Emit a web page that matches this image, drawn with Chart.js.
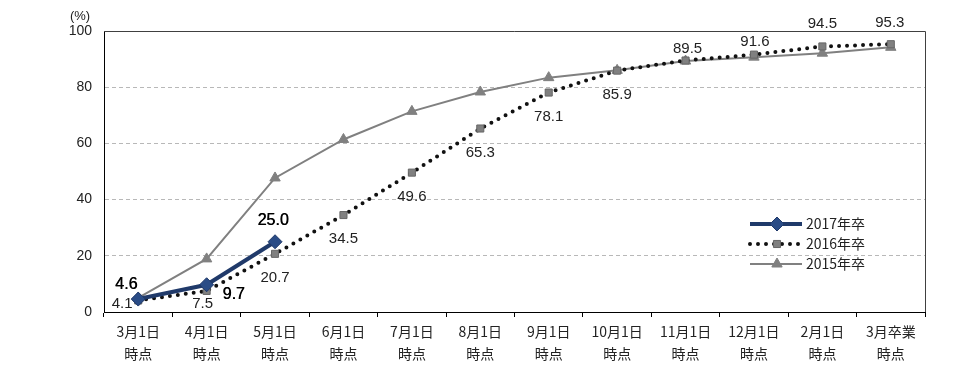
<!DOCTYPE html>
<html>
<head>
<meta charset="utf-8">
<script src="https://cdn.jsdelivr.net/npm/chart.js@4.4.1/dist/chart.umd.min.js"></script>
<style>
  html, body { margin: 0; padding: 0; background: #fff; }
  #wrap { width: 961px; height: 370px; }
</style>
</head>
<body>
<div id="wrap"><canvas id="chart" width="961" height="370"></canvas></div>
<script>
// ===================== DATA =====================
const categories = [
  ['3月1日', '時点'], ['4月1日', '時点'], ['5月1日', '時点'], ['6月1日', '時点'],
  ['7月1日', '時点'], ['8月1日', '時点'], ['9月1日', '時点'], ['10月1日', '時点'],
  ['11月1日', '時点'], ['12月1日', '時点'], ['2月1日', '時点'], ['3月卒業', '時点']
];
const series2017 = [4.6, 9.7, 25.0, null, null, null, null, null, null, null, null, null];
const series2016 = [4.1, 7.5, 20.7, 34.5, 49.6, 65.3, 78.1, 85.9, 89.5, 91.6, 94.5, 95.3];
const series2015 = [5.0, 18.9, 47.7, 61.4, 71.4, 78.3, 83.4, 86.0, 89.3, 90.7, 92.1, 94.2];
const yTicks = [0, 20, 40, 60, 80, 100];

// label offsets from each point (pixels), only for labelled series
const labelOffset2017 = [[-12, -14], [27, 10], [-2, -21]];
const labelOffset2016 = [[-16, 3], [-4, 13], [0, 24], [0, 24], [0, 24], [0, 24], [0, 24], [0, 24],
  [2, -12], [1, -13], [0, -23], [-1, -21]];

const NAVY = '#203a6a';
const GRAY = '#808080';
const FONT_JP = '"Noto Sans CJK JP", "Liberation Sans", sans-serif';
const FONT_NUM = '"Liberation Sans", Arial, sans-serif';

// ===================== PLUGINS =====================
const decorPlugin = {
  id: 'decor',
  afterDatasetsDraw(chart) {
    const ctx = chart.ctx;
    const area = chart.chartArea;
    ctx.save();
    // top and right frame
    ctx.strokeStyle = '#404040';
    ctx.lineWidth = 1;
    ctx.beginPath();
    ctx.moveTo(area.left, area.top + 0.5);
    ctx.lineTo(area.right + 0.5, area.top + 0.5);
    ctx.lineTo(area.right + 0.5, area.bottom);
    ctx.stroke();

    // data labels
    ctx.textAlign = 'center';
    ctx.textBaseline = 'middle';
    const m17 = chart.getDatasetMeta(0).data;
    ctx.fillStyle = '#000';
    ctx.font = '16px ' + FONT_NUM;
    series2017.forEach((v, i) => {
      if (v === null) return;
      const p = m17[i];
      // slightly heavier text: draw twice with half pixel shift
      ctx.fillText(v.toFixed(1), p.x + labelOffset2017[i][0], p.y + labelOffset2017[i][1]);
      ctx.fillText(v.toFixed(1), p.x + labelOffset2017[i][0] + 0.5, p.y + labelOffset2017[i][1]);
    });
    const m16 = chart.getDatasetMeta(1).data;
    ctx.font = '15px ' + FONT_NUM;
    ctx.fillStyle = '#222';
    series2016.forEach((v, i) => {
      const p = m16[i];
      ctx.fillText(v.toFixed(1), p.x + labelOffset2016[i][0], p.y + labelOffset2016[i][1]);
    });

    // unit label
    ctx.font = '13px ' + FONT_NUM;
    ctx.fillStyle = '#222';
    ctx.fillText('(%)', 80, 16);

    // legend
    const items = chart.data.datasets;
    const lx0 = 750, lx1 = 802, rowY = [224, 244, 264];
    items.forEach((ds, i) => {
      const y = rowY[i];
      ctx.save();
      ctx.strokeStyle = ds.borderColor;
      ctx.lineWidth = ds.borderWidth;
      ctx.lineCap = ds.borderCapStyle || 'butt';
      ctx.setLineDash(ds.borderDash || []);
      ctx.beginPath();
      ctx.moveTo(lx0, y);
      ctx.lineTo(lx1, y);
      ctx.stroke();
      ctx.restore();
      ctx.save();
      ctx.fillStyle = ds.pointBackgroundColor;
      ctx.strokeStyle = ds.pointBorderColor;
      ctx.lineWidth = 1;
      Chart.helpers.drawPoint(ctx, {
        pointStyle: ds.pointStyle,
        radius: ds.pointRadius,
        rotation: 0,
        borderWidth: 1
      }, (lx0 + lx1) / 2 + 1, y);
      ctx.restore();
      ctx.fillStyle = '#222';
      ctx.textAlign = 'left';
      ctx.font = '14px ' + FONT_JP;
      ctx.fillText(ds.label, 806, y);
    });
    ctx.restore();
  }
};

// ===================== CHART =====================
new Chart(document.getElementById('chart'), {
  type: 'line',
  data: {
    labels: categories,
    datasets: [
      {
        label: '2017年卒',
        data: series2017,
        borderColor: NAVY,
        backgroundColor: NAVY,
        borderWidth: 4,
        pointStyle: 'rectRot',
        pointRadius: 7,
        pointBorderColor: NAVY,
        pointBackgroundColor: '#2a4c86',
        pointBorderWidth: 1,
        tension: 0
      },
      {
        label: '2016年卒',
        data: series2016,
        borderColor: '#111',
        backgroundColor: GRAY,
        borderWidth: 4,
        borderDash: [0, 8],
        borderCapStyle: 'round',
        pointStyle: 'rect',
        pointRadius: 5,
        pointBorderColor: '#666',
        pointBackgroundColor: GRAY,
        pointBorderWidth: 1,
        tension: 0
      },
      {
        label: '2015年卒',
        data: series2015,
        borderColor: GRAY,
        backgroundColor: GRAY,
        borderWidth: 2,
        pointStyle: 'triangle',
        pointRadius: 6,
        pointBorderColor: GRAY,
        pointBackgroundColor: GRAY,
        pointBorderWidth: 1,
        tension: 0
      }
    ]
  },
  options: {
    responsive: false,
    animation: false,
    devicePixelRatio: 1,
    layout: { padding: { top: 31, right: 36, left: 0, bottom: 0 } },
    plugins: {
      legend: { display: false },
      tooltip: { enabled: false }
    },
    scales: {
      x: {
        offset: true,
        grid: {
          offset: true,
          drawOnChartArea: false,
          drawTicks: true,
          tickLength: 5,
          color: '#000'
        },
        border: { color: '#000', width: 1 },
        ticks: {
          color: '#222',
          font: { family: FONT_JP, size: 14, lineHeight: 1.55 },
          padding: 4,
          maxRotation: 0,
          autoSkip: false
        },
        afterFit(scale) { scale.height = 58; }
      },
      y: {
        min: 0,
        max: 100,
        afterBuildTicks(scale) { scale.ticks = yTicks.map(v => ({ value: v })); },
        grid: {
          drawTicks: false,
          color: ctx => (ctx.tick && (ctx.tick.value === 0 || ctx.tick.value === 100)) ? 'rgba(0,0,0,0)' : '#b8b8b8',
          lineWidth: 1
        },
        border: { color: '#000', width: 1, dash: [4, 3] },
        ticks: {
          color: '#222',
          font: { family: FONT_NUM, size: 14 },
          padding: 12
        },
        afterFit(scale) { scale.width = 104; }
      }
    }
  },
  plugins: [decorPlugin]
});
</script>
</body>
</html>
